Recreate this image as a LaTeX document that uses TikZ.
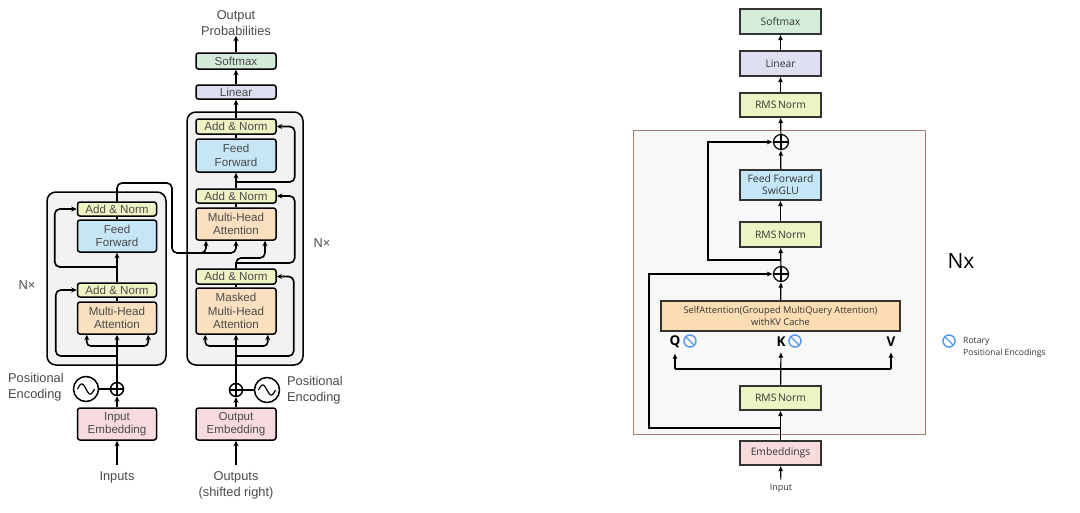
\documentclass[tikz,border=0pt]{standalone}
\usepackage{fontspec}
\setmainfont{Liberation Sans}
\newfontfamily\rfont{Open Sans}
\usetikzlibrary{arrows.meta}
\definecolor{lgray}{HTML}{4A4A4A}
\definecolor{anC}{HTML}{EFF3C3}
\definecolor{ffC}{HTML}{C6E6F5}
\definecolor{mhC}{HTML}{FBE0BF}
\definecolor{emC}{HTML}{F7DADE}
\definecolor{liC}{HTML}{DDDEF0}
\definecolor{smC}{HTML}{D3EBDA}
\definecolor{bgC}{HTML}{F2F2F2}
\definecolor{rbC}{HTML}{A57B72}
\definecolor{rbgC}{HTML}{F8F8F8}
\definecolor{rotC}{HTML}{5A9BE8}
\definecolor{rtxt}{HTML}{333333}
\definecolor{anR}{HTML}{EEF3C4}
\definecolor{ffR}{HTML}{C4E6F6}
\definecolor{mhR}{HTML}{FCDDB3}
\definecolor{emR}{HTML}{F8DCDD}
\definecolor{liR}{HTML}{DEE0F2}
\definecolor{smR}{HTML}{D3EDDA}
\begin{document}
\begin{tikzpicture}[x=1pt,y=-1pt,
  lbox/.style={draw=black,line width=1.5pt,rounded corners=2.5pt,minimum width=79pt,inner sep=0pt,align=center,text=lgray,font=\fontsize{11.6}{13.5}\selectfont},
  ltxt/.style={text=lgray,align=center,font=\fontsize{12.8}{16}\selectfont,inner sep=0pt},
  lln/.style={line width=1.6pt},
  larr/.style={line width=1.6pt,-{Stealth[length=5.5pt,width=5pt]}},
  lcont/.style={draw=black,line width=1.5pt,rounded corners=9pt,fill=bgC,inner sep=0pt},
  lplus/.style={circle,draw,line width=1.5pt,minimum size=13pt,inner sep=0pt,fill=white,path picture={\draw[line width=1.1pt] (path picture bounding box.north) -- (path picture bounding box.south) (path picture bounding box.west) -- (path picture bounding box.east);}},
  lsin/.style={circle,draw,line width=1.5pt,minimum size=25pt,inner sep=0pt},
  rbox/.style={draw=rtxt,line width=1.1pt,minimum width=81pt,inner sep=0pt,align=center,text=rtxt,font=\rfont\fontsize{10.3}{12}\selectfont},
  rarr/.style={line width=1.2pt,-{Latex[length=5.5pt,width=5pt]}},
  rln/.style={line width=1.2pt},
  rplus/.style={circle,draw,line width=1.2pt,minimum size=15pt,inner sep=0pt,path picture={\draw[line width=1.2pt] (path picture bounding box.north) -- (path picture bounding box.south) (path picture bounding box.west) -- (path picture bounding box.east);}},
  roticon/.style={circle,draw=rotC,line width=1.5pt,minimum size=12pt,inner sep=0pt,path picture={\draw[rotC,line width=1.4pt] (path picture bounding box.north west) -- (path picture bounding box.south east);}},
  qkv/.style={font=\rfont\bfseries\fontsize{13.5}{13.5}\selectfont,inner sep=0pt},
]
\useasboundingbox (0,0) rectangle (1080,512);

% ---------------- left: Transformer ----------------
\node[lcont,minimum width=119pt,minimum height=173pt] (encbox) at (106.5,278.5) {};
\node[lcont,minimum width=116pt,minimum height=253pt] (decbox) at (245,238.5) {};

% encoder
\node[lbox,fill=anC,minimum height=14pt] (eAN2) at (117,209) {Add \& Norm};
\node[lbox,fill=ffC,minimum height=32pt] (eFF) at (117,236) {Feed\\Forward};
\node[lbox,fill=anC,minimum height=14pt] (eAN1) at (117,290) {Add \& Norm};
\node[lbox,fill=mhC,minimum height=32pt] (eMHA) at (117,318) {Multi-Head\\Attention};
\node[lbox,fill=emC,minimum height=32pt] (eEmb) at (117,424) {Input\\Embedding};
\node[lplus] (ePlus) at (117,389) {};
\node[lsin] (eSin) at (86,389) {};
\node[ltxt,anchor=west,align=left] (ePE) at (8,387) {Positional\\Encoding};
\node[ltxt] (eIn) at (117,477) {Inputs};
\node[ltxt] (eN) at (27,285) {N×};
\draw[line width=1.2pt] plot[domain=-1:1,samples=40,smooth] ({86+8.5*\x},{389+5*sin(180*\x)});

\draw[larr,shorten <=6pt] (eIn) -- (eEmb);
\draw[larr] (eEmb) -- (ePlus);
\draw[lln] (eSin) -- (ePlus);
\draw[larr] (ePlus) -- (eMHA);
\coordinate (eS) at (117,346);
\draw[larr,rounded corners=4pt] (eS) -| ([xshift=10pt]eMHA.south west);
\draw[larr,rounded corners=4pt] (eS) -| ([xshift=-9pt]eMHA.south east);
\coordinate (eR1) at (117,356);
\draw[larr,rounded corners=5pt] (eR1) -| ([xshift=-21pt]eAN1.west) -- (eAN1.west);
\draw[lln] (eMHA) -- (eAN1);
\draw[larr] (eAN1) -- (eFF);
\coordinate (eR2) at (117,267);
\draw[larr,rounded corners=5pt] (eR2) -| ([xshift=-22pt]eAN2.west) -- (eAN2.west);
\draw[lln] (eFF) -- (eAN2);

% decoder
\node[lbox,fill=anC,minimum width=80pt,minimum height=15pt] (dAN3) at (236,126.5) {Add \& Norm};
\node[lbox,fill=ffC,minimum width=80pt,minimum height=33pt] (dFF) at (236,155.5) {Feed\\Forward};
\node[lbox,fill=anC,minimum width=80pt,minimum height=14pt] (dAN2) at (236,196) {Add \& Norm};
\node[lbox,fill=mhC,minimum width=80pt,minimum height=32pt] (dMHA) at (236,224) {Multi-Head\\Attention};
\node[lbox,fill=anC,minimum width=80pt,minimum height=15pt] (dAN1) at (236,276.5) {Add \& Norm};
\node[lbox,fill=mhC,minimum width=80pt,minimum height=46pt] (dMMHA) at (236,311) {Masked\\Multi-Head\\Attention};
\node[lbox,fill=emC,minimum width=80pt,minimum height=32pt] (dEmb) at (236,424) {Output\\Embedding};
\node[lplus] (dPlus) at (236,390) {};
\node[lsin] (dSin) at (267,390) {};
\node[ltxt,anchor=west,align=left] (dPE) at (287,390) {Positional\\Encoding};
\node[ltxt] (dOut) at (236,485) {Outputs\\(shifted right)};
\node[ltxt] (dN) at (322,243) {N×};
\node[lbox,fill=liC,minimum width=80pt,minimum height=14pt] (lin) at (236,92) {Linear};
\node[lbox,fill=smC,minimum width=80pt,minimum height=16pt] (soft) at (236,61) {Softmax};
\node[ltxt] (oprob) at (236,23) {Output\\Probabilities};
\draw[line width=1.2pt] plot[domain=-1:1,samples=40,smooth] ({267+8.5*\x},{390+5*sin(180*\x)});

\draw[larr,shorten <=6pt] (dOut) -- (dEmb);
\draw[larr] (dEmb) -- (dPlus);
\draw[lln] (dSin) -- (dPlus);
\draw[larr] (dPlus) -- (dMMHA);
\coordinate (dS) at (236,346);
\draw[larr,rounded corners=4pt] (dS) -| ([xshift=10pt]dMMHA.south west);
\draw[larr,rounded corners=4pt] (dS) -| ([xshift=-9pt]dMMHA.south east);
\coordinate (dR1) at (236,356);
\draw[larr,rounded corners=5pt] (dR1) -| ([xshift=17pt]dAN1.east) -- (dAN1.east);
\draw[lln] (dMMHA) -- (dAN1);
% encoder output into decoder attention
\coordinate (eTurn) at (172,183);
\coordinate (eDown) at (172,253);
\draw[larr,rounded corners=5pt] (eAN2.north) |- (eTurn) -- (eDown) -| ([xshift=-30pt]dMHA.south);
\coordinate (eK) at (195,253);
\draw[larr,rounded corners=5pt] (eK) -| (dMHA.south);
% decoder query
\coordinate (dQ) at (236,258);
\draw[larr,rounded corners=5pt] (dAN1.north) -- (dQ) -| ([xshift=29pt]dMHA.south);
\coordinate (dR2) at (236,263);
\draw[larr,rounded corners=5pt] (dR2) -| ([xshift=18pt]dAN2.east) -- (dAN2.east);
\draw[lln] (dMHA) -- (dAN2);
\draw[larr] (dAN2) -- (dFF);
\coordinate (dR3) at (236,182);
\draw[larr,rounded corners=5pt] (dR3) -| ([xshift=18pt]dAN3.east) -- (dAN3.east);
\draw[lln] (dFF) -- (dAN3);
\draw[larr] (dAN3) -- (lin);
\draw[larr] (lin) -- (soft);
\draw[larr] (soft) -- (oprob);

% ---------------- right: LLaMA ----------------
\node[draw=rbC,line width=1pt,fill=rbgC,minimum width=292pt,minimum height=304pt,inner sep=0pt] (rcont) at (779,282) {};
\node[rbox,fill=smR,minimum height=25pt] (rSoft) at (780.5,21.5) {Softmax};
\node[rbox,fill=liR,minimum height=25pt] (rLin) at (780.5,63.5) {Linear};
\node[rbox,fill=anR,minimum height=24pt] (rRMS3) at (780.5,105) {RMS\,Norm};
\node[rplus] (rP2) at (781,142) {};
\node[rbox,fill=ffR,minimum height=30pt] (rFF) at (780.5,185) {Feed Forward\\SwiGLU};
\node[rbox,fill=anR,minimum height=25pt] (rRMS2) at (780.5,234.5) {RMS\,Norm};
\node[rplus] (rP1) at (781,274) {};
\node[rbox,fill=mhR,minimum width=239pt,minimum height=30pt,font=\rfont\fontsize{9.3}{11.5}\selectfont] (rAtt) at (780.5,316) {SelfAttention(Grouped MultiQuery Attention)\\withKV Cache};
\node[qkv] (rQ) at (675,342) {Q};
\node[qkv] (rK) at (781,342) {K};
\node[qkv] (rV) at (891,342) {V};
\node[roticon] (rotQ) at (690,341) {};
\node[roticon] (rotK) at (795,341) {};
\node[rbox,fill=anR,minimum height=24pt] (rRMS1) at (780.5,398) {RMS\,Norm};
\node[rbox,fill=emR,minimum height=24pt] (rEmb) at (780.5,453) {Embeddings};
\node[font=\rfont\fontsize{9}{10}\selectfont,text=rtxt,inner sep=0pt] (rIn) at (781,488) {Input};
\node[font=\rfont\fontsize{21}{21}\selectfont,inner sep=0pt] (rN) at (961,261) {Nx};
\node[roticon] (rotL) at (949,341) {};
\node[font=\rfont\fontsize{8.6}{11.5}\selectfont,text=rtxt,align=left,anchor=west,inner sep=0pt] (rotT) at (963,347.5) {Rotary\\Positional Encodings};

\draw[rarr,shorten <=4pt] (rIn) -- (rEmb);
\draw[rarr] (rEmb) -- (rRMS1);
\coordinate (rR1) at (781,428);
\coordinate (rL1) at (649,428);
\draw[rarr] (rR1) -- (rL1) |- (rP1.west);
\coordinate (rS) at (781,369);
\draw[rln] (rQ|-rS) -- (rV|-rS);
\draw[rarr,shorten >=5pt] (rRMS1) -- (rK.south);
\draw[rarr,shorten >=5pt] (rQ|-rS) -- (rQ.south);
\draw[rarr,shorten >=5pt] (rV|-rS) -- (rV.south);
\draw[rarr] (rAtt) -- (rP1);
\draw[rarr] (rP1) -- (rRMS2);
\coordinate (rR2) at (781,260);
\coordinate (rL2) at (708,260);
\draw[rarr] (rR2) -- (rL2) |- (rP2.west);
\draw[rarr] (rRMS2) -- (rFF);
\draw[rarr] (rFF) -- (rP2);
\draw[rarr] (rP2) -- (rRMS3);
\draw[rarr] (rRMS3) -- (rLin);
\draw[rarr] (rLin) -- (rSoft);
\end{tikzpicture}
\end{document}
